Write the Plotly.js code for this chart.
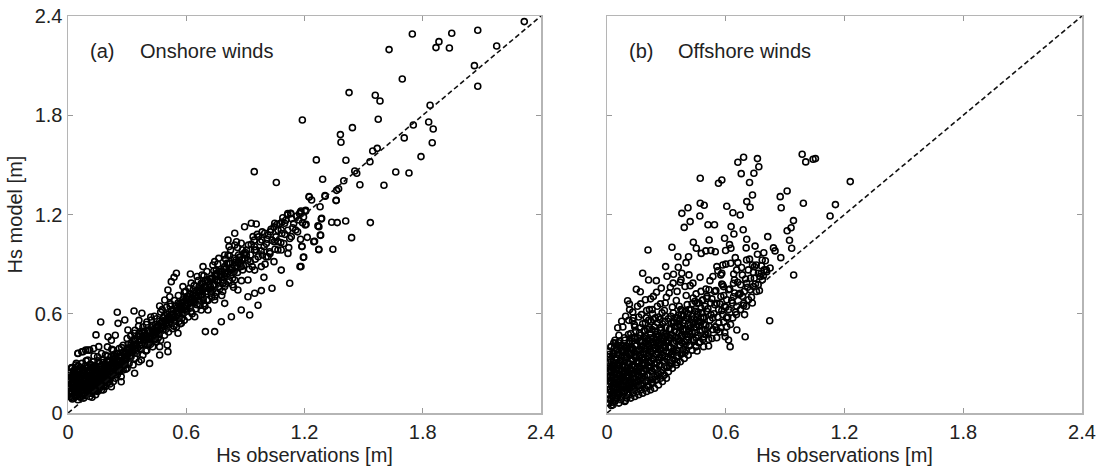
<!DOCTYPE html>
<html>
<head>
<meta charset="utf-8">
<script src="https://cdn.plot.ly/plotly-3.0.1.min.js"></script>
<style>html,body{margin:0;padding:0;background:#fff;}#chart{width:1102px;height:469px;}</style>
</head>
<body>
<div id="chart"></div>
<script>
// Axis ticks
var tickValues = [0, 0.6, 1.2, 1.8, 2.4];
var tickLabels = ["0", "0.6", "1.2", "1.8", "2.4"];
var panelLetters = ["(a)", "(b)"];
var panelNames = ["Onshore winds", "Offshore winds"];
var xTitle = "Hs observations [m]";
var yTitle = "Hs model [m]";
var oneToOne = [0, 2.4];

// (a) Onshore winds: [Hs observed, Hs model]
var onshoreCore = [
[0.01,0.10],[0.01,0.15],[0.01,0.20],[0.01,0.24],[0.02,0.12],[0.02,0.17],[0.02,0.22],[0.02,0.27],[0.03,0.09],[0.03,0.14],[0.03,0.19],[0.03,0.25],[0.04,0.11],[0.04,0.16],[0.04,0.21],[0.04,0.29],[0.05,0.13],[0.05,0.18],[0.05,0.23],[0.05,0.08],
[0.06,0.10],[0.06,0.15],[0.06,0.20],[0.06,0.26],[0.07,0.12],[0.07,0.17],[0.07,0.22],[0.07,0.30],[0.08,0.09],[0.08,0.14],[0.08,0.19],[0.08,0.24],[0.09,0.11],[0.09,0.16],[0.09,0.21],[0.09,0.27],[0.10,0.13],[0.10,0.18],[0.10,0.23],[0.10,0.32],[0.07,0.37],[0.09,0.38],[0.11,0.38],[0.13,0.39],[0.05,0.36],
[0.11,0.10],[0.11,0.15],[0.11,0.20],[0.11,0.26],[0.12,0.12],[0.12,0.17],[0.12,0.22],[0.12,0.29],[0.13,0.14],[0.13,0.19],[0.13,0.24],[0.13,0.31],[0.14,0.11],[0.14,0.16],[0.14,0.21],[0.14,0.27],[0.15,0.13],[0.15,0.18],[0.15,0.23],[0.15,0.34],
[0.16,0.15],[0.16,0.20],[0.16,0.25],[0.16,0.30],[0.17,0.17],[0.17,0.22],[0.17,0.28],[0.17,0.36],[0.18,0.14],[0.18,0.19],[0.18,0.24],[0.18,0.32],[0.19,0.16],[0.19,0.21],[0.19,0.27],[0.19,0.35],[0.20,0.18],[0.20,0.23],[0.20,0.29],[0.20,0.40],
[0.21,0.20],[0.21,0.25],[0.21,0.31],[0.22,0.22],[0.22,0.27],[0.22,0.34],[0.23,0.19],[0.23,0.24],[0.23,0.30],[0.23,0.38],[0.24,0.21],[0.24,0.26],[0.24,0.33],[0.25,0.23],[0.25,0.28],[0.25,0.36],[0.22,0.44],[0.24,0.47],
[0.26,0.25],[0.26,0.31],[0.26,0.39],[0.27,0.22],[0.27,0.28],[0.27,0.34],[0.28,0.26],[0.28,0.32],[0.28,0.41],[0.29,0.29],[0.29,0.36],[0.30,0.27],[0.30,0.33],[0.30,0.39],[0.30,0.45],
[0.31,0.30],[0.31,0.37],[0.32,0.34],[0.32,0.42],[0.33,0.29],[0.33,0.38],[0.34,0.33],[0.34,0.44],[0.35,0.36],[0.35,0.41],[0.36,0.31],[0.36,0.48],[0.37,0.39],[0.37,0.44],[0.38,0.35],[0.38,0.52],[0.39,0.42],[0.39,0.47],[0.40,0.38],[0.40,0.45],[0.40,0.55],[0.34,0.50],[0.36,0.56],
[0.41,0.42],[0.41,0.50],[0.42,0.46],[0.42,0.58],[0.43,0.40],[0.43,0.53],[0.44,0.45],[0.44,0.49],[0.45,0.43],[0.45,0.57],[0.46,0.48],[0.46,0.52],[0.47,0.44],[0.47,0.61],[0.48,0.50],[0.48,0.55],[0.49,0.47],[0.49,0.59],[0.50,0.53],[0.50,0.64],
[0.51,0.49],[0.51,0.57],[0.52,0.55],[0.52,0.66],[0.53,0.51],[0.53,0.60],[0.54,0.56],[0.54,0.68],[0.55,0.52],[0.55,0.62],[0.56,0.58],[0.56,0.71],[0.57,0.54],[0.57,0.64],[0.58,0.60],[0.58,0.67],[0.59,0.56],[0.59,0.73],[0.60,0.62],[0.60,0.69],
[0.61,0.58],[0.61,0.66],[0.62,0.64],[0.62,0.72],[0.63,0.60],[0.63,0.69],[0.64,0.67],[0.64,0.77],[0.65,0.63],[0.65,0.71],[0.66,0.68],[0.66,0.80],[0.67,0.65],[0.67,0.74],[0.68,0.70],[0.68,0.78],[0.69,0.66],[0.69,0.83],[0.70,0.72],[0.70,0.76],
[0.71,0.68],[0.72,0.75],[0.72,0.81],[0.73,0.70],[0.74,0.77],[0.74,0.86],[0.75,0.73],[0.76,0.79],[0.76,0.90],[0.77,0.75],[0.78,0.82],[0.78,0.71],[0.79,0.87],[0.80,0.78],[0.80,0.93],
[0.81,0.84],[0.82,0.80],[0.82,0.95],[0.83,0.88],[0.84,0.76],[0.85,0.91],[0.86,0.85],[0.86,1.00],[0.87,0.94],[0.88,0.80],[0.89,0.89],[0.90,0.97],
[0.92,0.87],[0.93,1.02],[0.95,0.93],[0.96,1.08],[0.98,0.98],[1.00,0.90],[1.01,1.05],[1.03,1.11],[1.05,0.99],[1.06,1.14],[1.08,1.03],[1.09,1.18],[1.10,1.08],[1.12,1.00],[1.14,1.12],[1.16,1.19],[1.18,1.05],[1.19,1.15]
];
var onshoreFill = [
[0.005,0.13],[0.015,0.175],[0.025,0.205],[0.035,0.125],[0.045,0.235],[0.055,0.155],[0.065,0.185],[0.075,0.265],[0.085,0.105],[0.095,0.225],[0.105,0.145],[0.115,0.195],[0.125,0.255],[0.135,0.165],[0.145,0.235],[0.155,0.205],[0.012,0.245],[0.028,0.165],[0.038,0.275],[0.048,0.105],
[0.058,0.215],[0.068,0.135],[0.078,0.195],[0.088,0.285],[0.098,0.175],[0.108,0.245],[0.118,0.135],[0.128,0.205],[0.138,0.285],[0.148,0.185],[0.158,0.265],[0.168,0.245],[0.178,0.215],[0.188,0.295],[0.198,0.255],[0.208,0.225],[0.218,0.295],[0.228,0.265],[0.238,0.305],[0.248,0.325],
[0.258,0.285],[0.268,0.345],[0.278,0.305],[0.288,0.335],[0.298,0.365],[0.022,0.085],[0.052,0.285],[0.072,0.245],[0.092,0.315],[0.112,0.295],[0.132,0.345],[0.152,0.315],[0.172,0.185],[0.192,0.235],[0.212,0.175],[0.232,0.345],[0.252,0.255],[0.272,0.395],[0.292,0.315],[0.008,0.195],
[0.018,0.275],[0.062,0.095],[0.082,0.155],[0.102,0.275],[0.122,0.095],[0.142,0.135],[0.162,0.175],[0.182,0.265],[0.202,0.345],[0.222,0.385],
[0.305,0.415],[0.315,0.345],[0.325,0.395],[0.335,0.445],[0.345,0.375],[0.355,0.465],[0.365,0.405],[0.375,0.485],[0.385,0.435],[0.395,0.375],[0.405,0.495],[0.415,0.455],[0.425,0.515],[0.435,0.475],[0.445,0.535],[0.455,0.495],[0.465,0.555],[0.475,0.515],[0.485,0.575],[0.495,0.505],
[0.505,0.595],[0.515,0.535],[0.525,0.615],[0.535,0.575],[0.545,0.645],[0.555,0.595],[0.565,0.555],[0.575,0.625],[0.585,0.685],[0.595,0.645],[0.318,0.465],[0.338,0.405],[0.358,0.525],[0.378,0.455],[0.398,0.535],[0.418,0.415],[0.438,0.585],[0.458,0.455],[0.478,0.625],[0.498,0.565],
[0.518,0.645],[0.538,0.525],[0.558,0.665],[0.578,0.575],[0.598,0.735],
[0.605,0.665],[0.615,0.705],[0.625,0.615],[0.635,0.745],[0.645,0.695],[0.655,0.655],[0.665,0.765],[0.675,0.705],[0.685,0.745],[0.695,0.795],[0.705,0.685],[0.715,0.775],[0.725,0.815],[0.735,0.745],[0.745,0.805],[0.755,0.845],[0.765,0.765],[0.775,0.855],[0.785,0.805],[0.795,0.885],
[0.805,0.825],[0.815,0.905],[0.825,0.865],[0.835,0.815],[0.845,0.935],[0.855,0.875],[0.865,0.955],[0.875,0.905],[0.885,0.985],[0.895,0.935],[0.625,0.785],[0.655,0.825],[0.705,0.855],[0.735,0.895],[0.765,0.935],[0.795,0.955],[0.825,0.985],[0.855,1.035],[0.695,0.645],[0.745,0.705],
[0.785,0.735],[0.835,0.775],
[0.905,0.955],[0.915,1.015],[0.925,0.915],[0.945,1.045],[0.955,0.985],[0.965,0.945],[0.975,1.035],[0.985,1.095],[0.995,1.005],[1.015,1.075],[1.025,0.965],[1.035,1.045],[1.045,1.125],[1.055,1.065],[1.065,0.985],[1.075,1.145],[1.085,1.085],[1.095,1.025],[1.105,1.165],[1.115,1.105],
[1.125,1.055],[1.135,1.175],[1.145,1.145],[1.165,1.095],[1.175,1.205],[1.195,1.185],[0.935,0.885],[1.005,0.945],[1.045,0.915]
];
var onshoreFill2 = [
[0.003,0.165],[0.013,0.215],[0.023,0.145],[0.033,0.235],[0.043,0.185],[0.053,0.115],[0.063,0.235],[0.073,0.155],[0.083,0.215],[0.093,0.135],[0.103,0.205],[0.113,0.245],[0.123,0.165],[0.133,0.225],[0.143,0.195],[0.153,0.145],[0.163,0.215],[0.173,0.265],[0.183,0.165],[0.193,0.195],
[0.203,0.265],[0.213,0.215],[0.223,0.245],[0.233,0.285],[0.243,0.235],[0.253,0.305],[0.263,0.265],[0.273,0.295],[0.283,0.355],[0.293,0.265],
[0.007,0.115],[0.017,0.095],[0.027,0.255],[0.037,0.105],[0.047,0.155],[0.057,0.255],[0.067,0.275],[0.077,0.115],[0.087,0.175],[0.097,0.255],[0.107,0.185],[0.117,0.275],[0.127,0.135],[0.137,0.255],[0.147,0.265],[0.157,0.235],[0.167,0.285],[0.177,0.305],[0.187,0.215],[0.197,0.315],
[0.207,0.305],[0.217,0.255],[0.227,0.325],[0.237,0.355],[0.247,0.285],[0.257,0.345],[0.267,0.315],[0.277,0.365],[0.287,0.295],[0.297,0.335],
[0.303,0.355],[0.313,0.395],[0.323,0.365],[0.333,0.415],[0.343,0.435],[0.353,0.395],[0.363,0.445],[0.373,0.415],[0.383,0.465],[0.393,0.445],[0.403,0.415],[0.413,0.485],[0.423,0.445],[0.433,0.505],[0.443,0.465],[0.453,0.525],[0.463,0.475],[0.473,0.545],[0.483,0.525],[0.493,0.555],
[0.503,0.545],[0.513,0.585],[0.523,0.565],[0.533,0.625],[0.543,0.585],[0.553,0.635],[0.563,0.605],[0.573,0.665],[0.583,0.625],[0.593,0.675],[0.603,0.645],[0.613,0.685],[0.623,0.665],[0.633,0.715],[0.643,0.675],[0.653,0.735],[0.663,0.705],[0.673,0.755],[0.683,0.715],[0.693,0.765],
[0.703,0.735],[0.713,0.795],[0.723,0.765],[0.733,0.815],[0.743,0.775],[0.753,0.825],[0.763,0.805],[0.773,0.835],[0.783,0.855],[0.793,0.825],[0.803,0.875],[0.813,0.855],[0.823,0.905],[0.833,0.875],[0.843,0.855],[0.853,0.925],[0.863,0.905],[0.873,0.945],[0.883,0.925],[0.893,0.965]
];
var onshoreFill3 = [
[0.306,0.385],[0.326,0.435],[0.346,0.415],[0.366,0.465],[0.386,0.495],[0.406,0.455],[0.426,0.485],[0.446,0.515],[0.466,0.505],[0.486,0.545],[0.506,0.565],[0.526,0.595],[0.546,0.555],[0.566,0.645],[0.586,0.605],[0.606,0.705],[0.626,0.695],[0.646,0.725],[0.666,0.735],[0.686,0.685],
[0.706,0.805],[0.726,0.735],[0.746,0.835],[0.766,0.855],[0.786,0.785],[0.806,0.905],[0.826,0.835],[0.846,0.885],[0.866,0.925],[0.886,0.865],[0.906,0.985],[0.926,0.955],[0.946,1.005],[0.966,1.065],[0.986,0.955],[1.006,1.025],[1.026,1.095],[1.046,1.035],[1.066,1.105],[1.086,1.155],
[0.004,0.225],[0.014,0.135],[0.024,0.185],[0.034,0.155],[0.044,0.205],[0.054,0.245],[0.064,0.165],[0.074,0.205],[0.084,0.255],[0.094,0.195],[0.104,0.165],[0.114,0.225],[0.124,0.185],[0.134,0.205],[0.144,0.255],[0.154,0.175],[0.164,0.225],[0.174,0.195],[0.184,0.245],[0.194,0.275]
];
var onshoreSpread = [
[1.272,0.990],[1.285,1.173],[1.280,1.076],[1.251,1.038],[1.268,1.131],[1.125,0.784],[0.964,0.651],[0.922,0.592],[1.035,0.754],[0.981,0.740],[0.913,0.703],[1.177,0.885],[1.194,0.941],[1.187,1.006],[1.204,1.137],[1.172,1.167],[1.130,1.207],[1.113,1.197],[1.179,1.213],[1.206,1.223],
[1.155,1.106],[1.082,1.106],[1.065,1.036],[1.023,0.975],[1.116,0.965],[1.082,0.864],[0.994,0.820],[0.930,1.147],[0.896,1.126],[0.955,1.143],[0.939,1.066],[0.879,1.026],[0.846,1.016],[0.817,1.006],[0.812,0.955],[0.744,0.915],[0.685,0.885],[0.680,0.834],[0.621,0.840],[0.550,0.845],
[0.538,0.820],[0.524,0.794],[0.583,0.764],[0.592,0.730],[0.507,0.744],[0.516,0.703],[0.491,0.683],[0.465,0.647],[0.335,0.617],[0.250,0.609],[0.166,0.550],[0.254,0.542],[0.288,0.562],[0.375,0.603],[0.142,0.472],[0.203,0.461],[0.156,0.401],[0.101,0.381],[0.051,0.361],[0.076,0.371],
[0.042,0.300],[0.270,0.189],[0.220,0.159],[0.465,0.351],[0.507,0.371],[0.504,0.411],[0.465,0.401],[0.414,0.300],[0.744,0.492],[0.697,0.492],[0.778,0.552],[0.829,0.582],[0.676,0.784],[0.617,0.754],[0.744,0.683],[0.795,0.663],[0.879,0.623],[0.947,0.724],[0.984,1.046],[0.947,0.985],
[0.846,1.087],[0.812,1.046],[0.752,0.864],[0.795,0.845],[0.879,0.885],[0.643,0.683],[0.592,0.623],[0.676,0.623],[0.423,0.562],[0.389,0.482],[0.338,0.482],[0.304,0.502],[0.440,0.441],[0.338,0.381],[0.270,0.340],[0.203,0.320],[0.135,0.280],[0.169,0.240],[0.101,0.219],[0.034,0.200],
[0.068,0.159],[0.017,0.119],[0.118,0.119],[0.169,0.139],[0.338,0.240],[0.372,0.320],[0.558,0.482],[0.575,0.542],[0.643,0.582],[0.710,0.623],[0.727,0.724],[0.795,0.764],[0.846,0.804],[0.913,0.804],[0.862,0.744],[0.981,0.885],[1.015,0.945],[1.082,0.985],[1.133,1.066],[1.099,1.147],
[1.049,1.147],[0.998,1.087],[0.913,0.925],[0.947,0.864]
];
var onshoreHigh = [
[2.315,2.366],[1.747,2.291],[1.947,2.296],[2.079,2.314],[1.882,2.245],[1.867,2.209],[1.935,2.207],[1.629,2.197],[2.175,2.219],[2.062,2.100],[2.079,1.975],[1.696,2.019],[1.426,1.937],[1.559,1.921],[1.583,1.886],[1.837,1.860],[1.189,1.771],[1.574,1.776],[1.443,1.725],[1.830,1.759],
[1.752,1.741],[1.853,1.717],[1.382,1.683],[1.385,1.637],[1.706,1.663],[1.848,1.634],[1.546,1.584],[1.569,1.600],[1.532,1.519],[1.260,1.530],[1.410,1.528],[1.791,1.550],[0.945,1.459],[1.057,1.393],[1.455,1.463],[1.465,1.449],[1.663,1.457],[1.730,1.451],[1.292,1.413],[1.399,1.404],
[1.481,1.380],[1.603,1.377],[1.224,1.306],[1.236,1.288],[1.305,1.310],[1.363,1.346],[1.373,1.356],[1.361,1.286],[1.279,1.247],[1.182,1.221],[1.206,1.225],[1.115,1.205],[1.130,1.205],[1.223,1.308],[1.304,1.314],[1.360,1.284],[1.204,1.219],[1.287,1.177],[1.338,1.153],[1.366,1.151],
[1.409,1.161],[1.534,1.151],[1.208,1.141],[1.273,1.126],[1.282,1.074],[1.439,1.060],[1.214,1.062],[1.247,1.036],[1.187,1.008],[1.273,0.987],[1.344,0.990],[1.196,0.943],[1.182,0.885]
];

// (b) Offshore winds: [Hs observed, Hs model]
var offshoreCore = [
[0.01,0.06],[0.01,0.11],[0.01,0.16],[0.01,0.22],[0.01,0.28],[0.01,0.34],[0.02,0.08],[0.02,0.13],[0.02,0.19],[0.02,0.25],[0.02,0.31],[0.02,0.40],[0.03,0.05],[0.03,0.10],[0.03,0.15],[0.03,0.21],[0.03,0.27],[0.03,0.36],[0.04,0.07],[0.04,0.12],[0.04,0.18],[0.04,0.24],[0.04,0.30],[0.04,0.44],[0.05,0.09],[0.05,0.14],[0.05,0.20],[0.05,0.26],[0.05,0.33],[0.05,0.38],
[0.06,0.06],[0.06,0.11],[0.06,0.17],[0.06,0.23],[0.06,0.29],[0.06,0.35],[0.06,0.47],[0.07,0.08],[0.07,0.14],[0.07,0.20],[0.07,0.26],[0.07,0.32],[0.07,0.41],[0.08,0.10],[0.08,0.16],[0.08,0.22],[0.08,0.28],[0.08,0.37],[0.08,0.52],[0.09,0.07],[0.09,0.13],[0.09,0.19],[0.09,0.25],[0.09,0.31],[0.09,0.44],[0.10,0.09],[0.10,0.15],[0.10,0.21],[0.10,0.27],[0.10,0.34],[0.10,0.39],
[0.11,0.11],[0.11,0.17],[0.11,0.23],[0.11,0.30],[0.11,0.42],[0.11,0.56],[0.12,0.09],[0.12,0.14],[0.12,0.20],[0.12,0.26],[0.12,0.36],[0.12,0.48],[0.13,0.12],[0.13,0.18],[0.13,0.24],[0.13,0.32],[0.13,0.39],[0.13,0.61],[0.14,0.10],[0.14,0.15],[0.14,0.21],[0.14,0.28],[0.14,0.45],[0.14,0.52],[0.15,0.13],[0.15,0.19],[0.15,0.25],[0.15,0.34],[0.15,0.41],
[0.16,0.11],[0.16,0.17],[0.16,0.23],[0.16,0.30],[0.16,0.38],[0.16,0.58],[0.17,0.14],[0.17,0.20],[0.17,0.27],[0.17,0.35],[0.17,0.47],[0.17,0.66],[0.18,0.12],[0.18,0.18],[0.18,0.24],[0.18,0.32],[0.18,0.43],[0.18,0.54],[0.19,0.15],[0.19,0.22],[0.19,0.29],[0.19,0.39],[0.19,0.50],[0.20,0.13],[0.20,0.19],[0.20,0.26],[0.20,0.36],[0.20,0.45],[0.20,0.62],
[0.21,0.16],[0.21,0.23],[0.21,0.31],[0.21,0.41],[0.21,0.56],[0.22,0.14],[0.22,0.20],[0.22,0.28],[0.22,0.37],[0.22,0.48],[0.22,0.69],[0.23,0.18],[0.23,0.25],[0.23,0.33],[0.23,0.43],[0.23,0.60],[0.24,0.15],[0.24,0.22],[0.24,0.30],[0.24,0.39],[0.24,0.52],[0.25,0.20],[0.25,0.27],[0.25,0.35],[0.25,0.46],[0.25,0.73],
[0.26,0.17],[0.26,0.24],[0.26,0.32],[0.26,0.42],[0.26,0.58],[0.27,0.21],[0.27,0.29],[0.27,0.38],[0.27,0.50],[0.27,0.66],[0.28,0.19],[0.28,0.26],[0.28,0.35],[0.28,0.45],[0.28,0.54],[0.29,0.23],[0.29,0.31],[0.29,0.41],[0.29,0.62],[0.30,0.21],[0.30,0.28],[0.30,0.37],[0.30,0.48],[0.30,0.70],
[0.31,0.25],[0.31,0.34],[0.31,0.44],[0.31,0.57],[0.32,0.30],[0.32,0.40],[0.32,0.51],[0.32,0.76],[0.33,0.27],[0.33,0.36],[0.33,0.47],[0.33,0.64],[0.34,0.32],[0.34,0.42],[0.34,0.55],[0.35,0.29],[0.35,0.38],[0.35,0.49],[0.35,0.68],[0.36,0.34],[0.36,0.45],[0.36,0.59],[0.37,0.31],[0.37,0.41],[0.37,0.52],[0.37,0.79],[0.38,0.36],[0.38,0.47],[0.38,0.62],[0.39,0.33],[0.39,0.43],[0.39,0.56],[0.40,0.38],[0.40,0.50],[0.40,0.71],
[0.41,0.35],[0.41,0.46],[0.41,0.60],[0.42,0.41],[0.42,0.53],[0.42,0.77],[0.43,0.38],[0.43,0.49],[0.43,0.66],[0.44,0.44],[0.44,0.57],[0.45,0.40],[0.45,0.52],[0.45,0.72],[0.46,0.47],[0.46,0.61],[0.47,0.43],[0.47,0.55],[0.47,0.82],[0.48,0.50],[0.48,0.68],[0.49,0.46],[0.49,0.58],[0.50,0.53],[0.50,0.75],
[0.51,0.48],[0.51,0.63],[0.52,0.56],[0.52,0.80],[0.53,0.45],[0.53,0.69],[0.54,0.60],[0.55,0.52],[0.55,0.74],[0.56,0.58],[0.56,0.86],[0.57,0.49],[0.57,0.66],[0.58,0.62],[0.58,0.78],[0.59,0.55],[0.59,0.71],[0.60,0.64],[0.60,0.90],
[0.61,0.58],[0.62,0.75],[0.63,0.68],[0.64,0.84],[0.65,0.61],[0.66,0.79],[0.67,0.72],[0.68,0.88],[0.69,0.65],[0.70,0.81],[0.71,0.76],[0.72,0.93],[0.73,0.70],[0.74,0.85],[0.75,0.78],[0.76,0.96],[0.77,0.74],[0.78,0.89],[0.79,0.83],[0.80,0.92]
];
var offshoreFill = [
[0.005,0.085],[0.015,0.145],[0.025,0.225],[0.035,0.185],[0.045,0.265],[0.055,0.125],[0.065,0.205],[0.075,0.345],[0.085,0.245],[0.095,0.165],[0.105,0.305],[0.115,0.265],[0.125,0.385],[0.135,0.345],[0.145,0.235],[0.155,0.455],[0.165,0.275],[0.175,0.405],[0.185,0.355],[0.195,0.265],
[0.205,0.505],[0.215,0.385],[0.225,0.315],[0.235,0.455],[0.245,0.355],[0.255,0.545],[0.265,0.425],[0.275,0.335],[0.285,0.485],[0.295,0.395],
[0.008,0.255],[0.018,0.325],[0.028,0.065],[0.038,0.395],[0.048,0.175],[0.058,0.425],[0.068,0.095],[0.078,0.285],[0.088,0.455],[0.098,0.225],[0.108,0.475],[0.118,0.185],[0.128,0.435],[0.138,0.535],[0.148,0.305],[0.158,0.195],[0.168,0.515],[0.178,0.245],[0.188,0.455],[0.198,0.575],
[0.208,0.285],[0.218,0.455],[0.228,0.625],[0.238,0.265],[0.248,0.425],[0.258,0.365],[0.268,0.515],[0.278,0.605],[0.288,0.275],[0.298,0.435],
[0.012,0.375],[0.022,0.045],[0.032,0.305],[0.042,0.145],[0.052,0.355],[0.062,0.255],[0.072,0.175],[0.082,0.385],[0.092,0.075],[0.102,0.365],[0.112,0.215],[0.122,0.325],[0.132,0.145],[0.142,0.405],[0.152,0.275],[0.162,0.345],[0.172,0.165],[0.182,0.305],[0.192,0.425],[0.202,0.225],
[0.212,0.345],[0.222,0.555],[0.232,0.205],[0.242,0.495],[0.252,0.305],[0.262,0.465],[0.272,0.245],[0.282,0.395],[0.292,0.555],[0.302,0.325],
[0.31,0.395],[0.32,0.455],[0.33,0.315],[0.34,0.495],[0.35,0.435],[0.36,0.375],[0.37,0.565],[0.38,0.425],[0.39,0.505],[0.40,0.445],[0.41,0.535],[0.42,0.475],[0.43,0.585],[0.44,0.515],[0.45,0.455],[0.46,0.555],[0.47,0.495],[0.48,0.605],[0.49,0.535],[0.50,0.475],
[0.315,0.285],[0.325,0.545],[0.335,0.605],[0.345,0.365],[0.355,0.575],[0.365,0.645],[0.375,0.465],[0.385,0.385],[0.395,0.615],[0.405,0.655],[0.415,0.405],[0.425,0.565],[0.435,0.695],[0.445,0.615],[0.455,0.375],[0.465,0.665],[0.475,0.735],[0.485,0.445],[0.495,0.645],[0.505,0.705],
[0.515,0.525],[0.525,0.595],[0.535,0.505],[0.545,0.655],[0.565,0.545],[0.575,0.705],[0.585,0.595],[0.595,0.485],[0.605,0.685],[0.615,0.625],[0.635,0.575],[0.645,0.725],[0.655,0.645],[0.675,0.775],[0.685,0.705],[0.695,0.595],[0.715,0.685],[0.725,0.815],[0.755,0.735],[0.785,0.805],
[0.515,0.745],[0.535,0.825],[0.555,0.885],[0.575,0.835],[0.625,0.905],[0.655,0.865],[0.705,0.925],[0.745,0.885],[0.765,0.845],[0.805,0.865]
];
var offshoreFill2 = [
[0.003,0.115],[0.013,0.195],[0.023,0.275],[0.033,0.125],[0.043,0.335],[0.053,0.235],[0.063,0.145],[0.073,0.375],[0.083,0.195],[0.093,0.285],[0.103,0.125],[0.113,0.355],[0.123,0.235],[0.133,0.295],[0.143,0.185],[0.153,0.375],[0.163,0.225],[0.173,0.435],[0.183,0.205],[0.193,0.335],
[0.203,0.395],[0.213,0.275],[0.223,0.425],[0.233,0.375],[0.243,0.265],[0.253,0.475],[0.263,0.335],[0.273,0.425],[0.283,0.315],[0.293,0.465],
[0.007,0.305],[0.017,0.225],[0.027,0.345],[0.037,0.245],[0.047,0.405],[0.057,0.305],[0.067,0.395],[0.077,0.235],[0.087,0.335],[0.097,0.405],[0.107,0.245],[0.117,0.395],[0.127,0.285],[0.137,0.455],[0.147,0.375],[0.157,0.315],[0.167,0.435],[0.177,0.335],[0.187,0.495],[0.197,0.385],
[0.207,0.445],[0.217,0.305],[0.227,0.505],[0.237,0.415],[0.247,0.475],[0.257,0.405],[0.267,0.565],[0.277,0.455],[0.287,0.405],[0.297,0.515],
[0.005,0.175],[0.015,0.265],[0.025,0.105],[0.035,0.285],[0.045,0.215],[0.055,0.185],[0.065,0.315],[0.075,0.125],[0.085,0.405],[0.095,0.355],[0.105,0.195],[0.115,0.435],[0.125,0.155],[0.135,0.385],[0.145,0.495],[0.155,0.255],[0.165,0.385],[0.175,0.295],[0.185,0.405],[0.195,0.465],
[0.205,0.345],[0.215,0.515],[0.225,0.255],[0.235,0.565],[0.245,0.395],[0.255,0.445],[0.265,0.385],[0.275,0.515],[0.285,0.435],[0.295,0.585],
[0.305,0.425],[0.315,0.505],[0.325,0.355],[0.335,0.545],[0.345,0.455],[0.355,0.525],[0.365,0.435],[0.375,0.595],[0.385,0.545],[0.395,0.475],[0.405,0.575],[0.415,0.495],[0.425,0.625],[0.435,0.545],[0.445,0.485],[0.455,0.595],[0.465,0.525],[0.475,0.635],[0.485,0.575],[0.495,0.505],
[0.303,0.465],[0.313,0.365],[0.323,0.585],[0.333,0.425],[0.343,0.575],[0.353,0.345],[0.363,0.535],[0.373,0.625],[0.383,0.505],[0.393,0.405]
];
var offshoreFill3 = [
[0.004,0.215],[0.014,0.355],[0.024,0.165],[0.034,0.425],[0.044,0.095],[0.054,0.295],[0.064,0.435],[0.074,0.215],[0.084,0.135],[0.094,0.395],[0.104,0.255],[0.114,0.145],[0.124,0.455],[0.134,0.205],[0.144,0.335],[0.154,0.165],[0.164,0.485],[0.174,0.215],[0.184,0.255],[0.194,0.545],
[0.204,0.165],[0.214,0.435],[0.224,0.185],[0.234,0.325],[0.244,0.575],[0.254,0.225],[0.264,0.285],[0.274,0.385],[0.284,0.225],[0.294,0.345],[0.304,0.275],[0.314,0.455],[0.324,0.305],[0.334,0.375],[0.344,0.525],[0.354,0.305],[0.364,0.485],[0.374,0.355],[0.384,0.585],[0.394,0.365],
[0.404,0.475],[0.414,0.625],[0.424,0.515],[0.434,0.445],[0.444,0.675],[0.454,0.535],[0.464,0.425],[0.474,0.575],[0.484,0.685],[0.494,0.475],[0.504,0.615],[0.514,0.445],[0.524,0.665],[0.534,0.575],[0.544,0.735],[0.554,0.455],[0.564,0.625],[0.574,0.515],[0.584,0.775],[0.594,0.645],
[0.604,0.575],[0.614,0.745],[0.624,0.535],[0.634,0.665],[0.644,0.805],[0.654,0.595],[0.664,0.715],[0.674,0.625],[0.684,0.835],[0.694,0.735],[0.704,0.645],[0.714,0.865],[0.724,0.745],[0.734,0.665],[0.744,0.815],[0.754,0.895],[0.764,0.775],[0.774,0.825],[0.784,0.925],[0.794,0.865],
[0.054,0.515],[0.074,0.555],[0.094,0.585],[0.114,0.625],[0.134,0.575],[0.154,0.645],[0.174,0.595],[0.194,0.685],[0.214,0.625],[0.234,0.705],[0.254,0.645],[0.274,0.755],[0.294,0.665],[0.314,0.725],[0.334,0.785],[0.354,0.735],[0.374,0.805],[0.394,0.765],[0.414,0.835],[0.434,0.785]
];
var offshoreHigh = [
[0.690,1.546],[0.661,1.516],[0.760,1.538],[0.767,1.489],[0.678,1.447],[0.742,1.449],[0.720,1.393],[0.986,1.564],[1.004,1.518],[1.041,1.534],[1.053,1.538],[1.229,1.399],[0.471,1.419],[0.563,1.389],[0.580,1.409],[0.735,1.318],[0.706,1.278],[0.723,1.244],[0.875,1.308],[0.910,1.342],
[0.992,1.268],[0.880,1.241],[1.154,1.260],[1.127,1.191],[0.605,1.250],[0.636,1.211],[0.673,1.197],[0.471,1.268],[0.491,1.256],[0.409,1.241],[0.378,1.207],[0.469,1.191],[0.420,1.157],[0.390,1.122],[0.510,1.138],[0.543,1.138],[0.627,1.127],[0.641,1.082],[0.688,1.108],[0.942,1.163],
[0.930,1.120],[0.910,1.102],[0.922,1.044],[0.933,0.996],[0.812,1.066],[0.706,1.050],[0.594,1.056],[0.516,1.046],[0.436,1.032],[0.328,1.002],[0.207,0.985],[0.358,0.945],[0.412,0.945],[0.451,0.996],[0.476,0.965],[0.499,0.980],[0.525,0.982],[0.547,0.975],[0.599,0.982],[0.619,1.018],
[0.626,0.996],[0.703,0.998],[0.748,1.009],[0.792,0.969],[0.841,0.998],[0.849,0.980],[0.878,0.939],[0.943,0.834],[0.822,0.558],[0.698,0.461],[0.622,0.401],[0.614,0.441],[0.597,0.461],[0.648,0.939],[0.661,0.909],[0.585,0.895],[0.580,0.845],[0.735,0.895],[0.780,0.845],[0.807,0.854],
[0.824,0.877],[0.296,0.885],[0.360,0.881],[0.399,0.909],[0.180,0.845],[0.210,0.804],[0.249,0.800],[0.303,0.827],[0.336,0.839],[0.378,0.845],[0.148,0.748],[0.168,0.733],[0.104,0.679],[0.113,0.659],[0.129,0.558],[0.020,0.401],[0.042,0.421],[0.488,0.401],[0.513,0.405],[0.555,0.502],
[0.605,0.522],[0.656,0.502],[0.454,0.663],[0.505,0.693],[0.555,0.663],[0.639,0.703],[0.673,0.724],[0.690,0.663],[0.588,0.764],[0.639,0.784],[0.706,0.784],[0.740,0.764]
];

var onshore = onshoreCore.concat(onshoreFill, onshoreFill2, onshoreFill3, onshoreSpread, onshoreHigh);
var offshore = offshoreCore.concat(offshoreFill, offshoreFill2, offshoreFill3, offshoreHigh);

var txtColor = "#222";
var fontFam = "Liberation Sans, Arial, sans-serif";
var markerStyle = {symbol: "circle-open", size: 6, color: "#000", line: {width: 1.6, color: "#000"}};
var dashStyle = {color: "#111", width: 1.6, dash: "5px,3px"};

function scatter(pts, xa, ya) {
  return {x: pts.map(function(p){return p[0];}), y: pts.map(function(p){return p[1];}),
    xaxis: xa, yaxis: ya, type: "scatter", mode: "markers", marker: markerStyle, hoverinfo: "skip"};
}
function diag(xa, ya) {
  return {x: oneToOne, y: oneToOne, xaxis: xa, yaxis: ya, type: "scatter", mode: "lines", line: dashStyle, hoverinfo: "skip"};
}

var data = [scatter(onshore, "x", "y"), diag("x", "y"), scatter(offshore, "x2", "y2"), diag("x2", "y2")];

function axis(extra) {
  var a = {range: [0, 2.4], tickvals: tickValues, ticktext: tickLabels, ticks: "inside", ticklen: 5, tickwidth: 1,
    tickcolor: "#999", showline: true, linecolor: "#b5b5b5", linewidth: 1.5, mirror: "ticks", showgrid: false,
    zeroline: false, tickfont: {family: fontFam, size: 20, color: txtColor}, fixedrange: true};
  for (var k in extra) a[k] = extra[k];
  return a;
}

var layout = {
  width: 1102, height: 469,
  margin: {l: 68, r: 20, t: 16, b: 56},
  paper_bgcolor: "#fff", plot_bgcolor: "#fff",
  showlegend: false,
  xaxis: axis({domain: [0, 0.4665], anchor: "y", title: {text: xTitle, font: {family: fontFam, size: 20, color: txtColor}, standoff: 6}}),
  yaxis: axis({domain: [0, 1], anchor: "x", title: {text: yTitle, font: {family: fontFam, size: 20, color: txtColor}, standoff: 6}}),
  xaxis2: axis({domain: [0.5316, 1], anchor: "y2", title: {text: xTitle, font: {family: fontFam, size: 20, color: txtColor}, standoff: 6}}),
  yaxis2: axis({domain: [0, 1], anchor: "x2", showticklabels: false}),
  annotations: [
    {xref: "x", yref: "y", x: 0.10, y: 2.19, text: panelLetters[0], showarrow: false, xanchor: "left", yanchor: "middle", font: {family: fontFam, size: 20, color: txtColor}},
    {xref: "x", yref: "y", x: 0.355, y: 2.19, text: panelNames[0], showarrow: false, xanchor: "left", yanchor: "middle", font: {family: fontFam, size: 20, color: txtColor}},
    {xref: "x2", yref: "y2", x: 0.10, y: 2.19, text: panelLetters[1], showarrow: false, xanchor: "left", yanchor: "middle", font: {family: fontFam, size: 20, color: txtColor}},
    {xref: "x2", yref: "y2", x: 0.35, y: 2.19, text: panelNames[1], showarrow: false, xanchor: "left", yanchor: "middle", font: {family: fontFam, size: 20, color: txtColor}}
  ]
};

Plotly.newPlot("chart", data, layout, {staticPlot: true, displayModeBar: false});
</script>
</body>
</html>
